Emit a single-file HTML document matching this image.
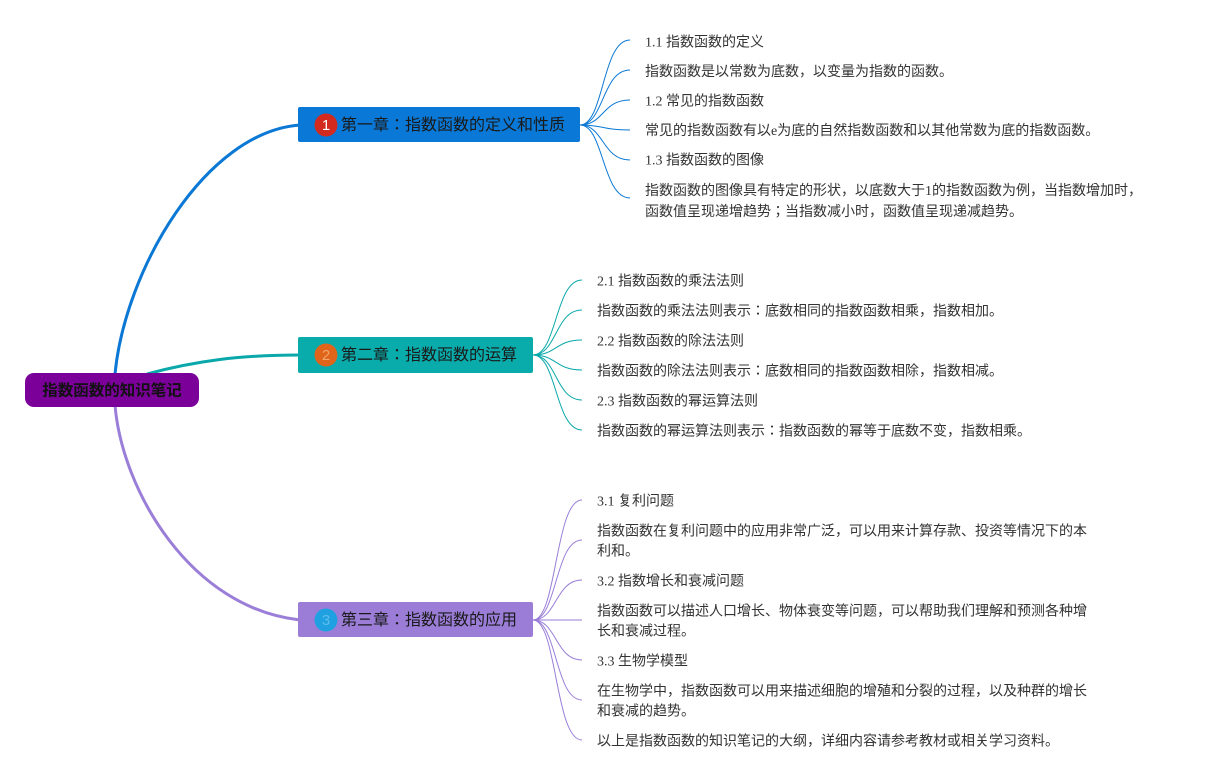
<!DOCTYPE html>
<html>
<head>
<meta charset="utf-8">
<style>
html,body{margin:0;padding:0;background:#fff;}
body{width:1205px;height:780px;overflow:hidden;}
svg{display:block;}
.leaf{font-family:"Liberation Serif","Noto Sans CJK JP",serif;font-size:14px;fill:#333;}
.ch{font-family:"Liberation Sans","Noto Sans CJK JP",sans-serif;font-size:16px;fill:#1a1a1a;}
.num{font-family:"Liberation Sans",sans-serif;font-size:15px;}
.root{font-family:"Liberation Sans","Noto Sans CJK JP",sans-serif;font-size:15.5px;font-weight:bold;fill:#111;}
</style>
</head>
<body>
<svg width="1205" height="780" viewBox="0 0 1205 780" xmlns="http://www.w3.org/2000/svg">
  <!-- main connectors -->
  <path d="M115,374 C125,270 205,132 300,125" fill="none" stroke="#0a78d4" stroke-width="3"/>
  <path d="M147,374 C195,361 240,355 300,355" fill="none" stroke="#0aa8aa" stroke-width="3"/>
  <path d="M115,405 C122,490 190,608 300,620" fill="none" stroke="#9a7ed8" stroke-width="3"/>

  <!-- chapter 1 leaf connectors -->
  <g fill="none" stroke="#0a78d4" stroke-width="1">
    <path d="M580,125 C604,125 602,40 630,40"/>
    <path d="M580,125 C604,125 602,70 630,70"/>
    <path d="M580,125 C604,125 602,100 630,100"/>
    <path d="M580,125 C604,125 602,130 630,130"/>
    <path d="M580,125 C604,125 602,160 630,160"/>
    <path d="M580,125 C604,125 602,198 630,198"/>
  </g>
  <!-- chapter 2 leaf connectors -->
  <g fill="none" stroke="#0aa8aa" stroke-width="1">
    <path d="M533,355 C557,355 555,280 582,280"/>
    <path d="M533,355 C557,355 555,310 582,310"/>
    <path d="M533,355 C557,355 555,340 582,340"/>
    <path d="M533,355 C557,355 555,370 582,370"/>
    <path d="M533,355 C557,355 555,400 582,400"/>
    <path d="M533,355 C557,355 555,430 582,430"/>
  </g>
  <!-- chapter 3 leaf connectors -->
  <g fill="none" stroke="#9a7ed8" stroke-width="1">
    <path d="M533,620 C557,620 555,500 582,500"/>
    <path d="M533,620 C557,620 555,540 582,540"/>
    <path d="M533,620 C557,620 555,580 582,580"/>
    <path d="M533,620 C557,620 555,620 582,620"/>
    <path d="M533,620 C557,620 555,660 582,660"/>
    <path d="M533,620 C557,620 555,700 582,700"/>
    <path d="M533,620 C557,620 555,740 582,740"/>
  </g>

  <!-- root -->
  <rect x="25" y="373" width="174" height="34" rx="9" ry="9" fill="#7b0099"/>
  <text class="root" x="112" y="391" text-anchor="middle" dominant-baseline="central">指数函数的知识笔记</text>

  <!-- chapter 1 -->
  <rect x="298" y="107" width="282" height="35" rx="2" fill="#0a78d6"/>
  <circle cx="326" cy="125" r="11.5" fill="#d22a1e"/>
  <text class="num" x="326" y="125.5" text-anchor="middle" dominant-baseline="central" fill="#ffffff">1</text>
  <text class="ch" x="341" y="125.5" dominant-baseline="central">第一章：指数函数的定义和性质</text>

  <!-- chapter 2 -->
  <rect x="298" y="337" width="235" height="36" rx="2" fill="#0aabab"/>
  <circle cx="326" cy="355" r="11.5" fill="#e0651a"/>
  <text class="num" x="326" y="355.5" text-anchor="middle" dominant-baseline="central" fill="#f2a46a">2</text>
  <text class="ch" x="341" y="355.5" dominant-baseline="central">第二章：指数函数的运算</text>

  <!-- chapter 3 -->
  <rect x="298" y="602" width="235" height="35" rx="2" fill="#9b7dd8"/>
  <circle cx="326" cy="620" r="11.5" fill="#1fa0e0"/>
  <text class="num" x="326" y="620.5" text-anchor="middle" dominant-baseline="central" fill="#5dbdec">3</text>
  <text class="ch" x="341" y="620.5" dominant-baseline="central">第三章：指数函数的应用</text>

  <!-- chapter 1 leaves -->
  <g class="leaf" dominant-baseline="central">
    <text x="645" y="43">1.1 指数函数的定义</text>
    <text x="645" y="72.5">指数函数是以常数为底数，以变量为指数的函数。</text>
    <text x="645" y="102">1.2 常见的指数函数</text>
    <text x="645" y="131.5">常见的指数函数有以e为底的自然指数函数和以其他常数为底的指数函数。</text>
    <text x="645" y="161">1.3 指数函数的图像</text>
    <text x="645" y="191.5">指数函数的图像具有特定的形状，以底数大于1的指数函数为例，当指数增加时，</text>
    <text x="645" y="212.5">函数值呈现递增趋势；当指数减小时，函数值呈现递减趋势。</text>
  </g>

  <!-- chapter 2 leaves -->
  <g class="leaf" dominant-baseline="central">
    <text x="597" y="282">2.1 指数函数的乘法法则</text>
    <text x="597" y="312">指数函数的乘法法则表示：底数相同的指数函数相乘，指数相加。</text>
    <text x="597" y="342">2.2 指数函数的除法法则</text>
    <text x="597" y="372">指数函数的除法法则表示：底数相同的指数函数相除，指数相减。</text>
    <text x="597" y="402">2.3 指数函数的幂运算法则</text>
    <text x="597" y="432">指数函数的幂运算法则表示：指数函数的幂等于底数不变，指数相乘。</text>
  </g>

  <!-- chapter 3 leaves -->
  <g class="leaf" dominant-baseline="central">
    <text x="597" y="502">3.1 复利问题</text>
    <text x="597" y="532">指数函数在复利问题中的应用非常广泛，可以用来计算存款、投资等情况下的本</text>
    <text x="597" y="552">利和。</text>
    <text x="597" y="582">3.2 指数增长和衰减问题</text>
    <text x="597" y="612">指数函数可以描述人口增长、物体衰变等问题，可以帮助我们理解和预测各种增</text>
    <text x="597" y="632">长和衰减过程。</text>
    <text x="597" y="662">3.3 生物学模型</text>
    <text x="597" y="692">在生物学中，指数函数可以用来描述细胞的增殖和分裂的过程，以及种群的增长</text>
    <text x="597" y="712">和衰减的趋势。</text>
    <text x="597" y="742">以上是指数函数的知识笔记的大纲，详细内容请参考教材或相关学习资料。</text>
  </g>
</svg>
</body>
</html>
